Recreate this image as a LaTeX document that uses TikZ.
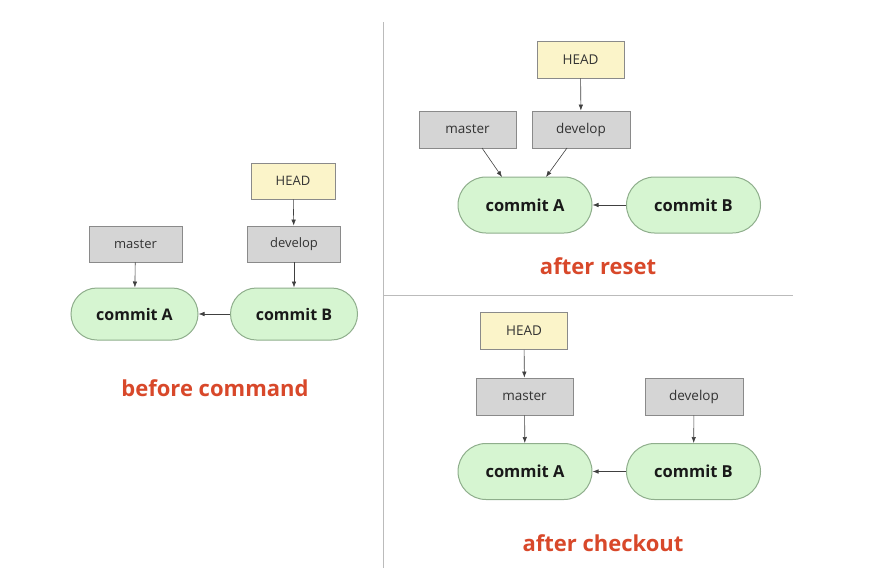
\documentclass[tikz,border=0pt]{standalone}
\usepackage{fontspec}
\setmainfont{Open Sans}
\usetikzlibrary{arrows.meta}
\definecolor{cgreen}{HTML}{D6F5D1}
\definecolor{cgreenb}{HTML}{8FAE8C}
\definecolor{cgray}{HTML}{D5D5D5}
\definecolor{cgrayb}{HTML}{8A8A8A}
\definecolor{chead}{HTML}{FBF4C9}
\definecolor{cred}{HTML}{D8482A}
\definecolor{cline}{HTML}{BBBBBB}
\tikzset{
  commitbox/.style={draw=cgreenb, fill=cgreen, line width=1pt, rounded corners=26pt,
    minimum width=127pt, minimum height=52pt, font=\fontsize{16}{18}\selectfont\bfseries, text=black!90},
  commitbig/.style={commitbox, rounded corners=28pt, minimum width=134pt, minimum height=56pt, font=\fontsize{16.5}{18}\selectfont\bfseries},
  refbox/.style={draw=cgrayb, fill=cgray, line width=0.8pt, minimum width=93pt, minimum height=36pt,
    font=\fontsize{13}{15}\selectfont, text=black!80},
  refbig/.style={refbox, minimum width=97pt, minimum height=37pt, font=\fontsize{13.5}{15}\selectfont},
  headbox/.style={refbox, fill=chead, minimum width=84pt},
  headbig/.style={refbig, fill=chead, minimum width=87pt},
  caption/.style={text=cred, font=\fontsize{22}{25}\selectfont\bfseries},
  arr/.style={-{Latex[length=6pt,width=4.5pt]}, line width=0.6pt, draw=black!75},
  divider/.style={draw=cline, line width=1pt}
}
\begin{document}
\begin{tikzpicture}[x=1pt,y=-1pt]
\useasboundingbox (0,0) rectangle (872,584);
% dividers
\coordinate (v1) at (383,22);
\coordinate (v2) at (383,568);
\coordinate (h1) at (383,295);
\coordinate (h2) at (793,295);
\draw[divider] (v1) -- (v2);
\draw[divider] (h1) -- (h2);
% left panel
\node[headbox] (lhead) at (293,181) {HEAD};
\node[refbox] (ldev) at (294,244) {develop};
\node[refbox] (lmaster) at (135.5,244) {master};
\node[commitbox] (lA) at (134.5,314) {commit A};
\node[commitbox] (lB) at (294,314) {commit B};
\node[caption] (lcap) at (215,388) {before command};
\draw[arr] (lhead) -- (ldev);
\draw[arr] (ldev) -- (lB);
\draw[arr] (lmaster) -- (lA);
\draw[arr] (lB) -- (lA);
% top right
\node[headbig] (thead) at (580.5,59.5) {HEAD};
\node[refbig] (tmaster) at (467.5,129.5) {master};
\node[refbig, minimum width=98pt] (tdev) at (581,129.5) {develop};
\node[commitbig] (tA) at (525,205) {commit A};
\node[commitbig] (tB) at (693.5,205) {commit B};
\node[caption] (tcap) at (598,266) {after reset};
\coordinate (tm1) at (482,148);
\coordinate (ta1) at (502,177);
\coordinate (td1) at (567,148);
\coordinate (ta2) at (546,177);
\draw[arr] (thead) -- (tdev);
\draw[arr] (tm1) -- (ta1);
\draw[arr] (td1) -- (ta2);
\draw[arr] (tB) -- (tA);
% bottom right
\node[headbig] (bhead) at (524,331) {HEAD};
\node[refbig] (bmaster) at (524.5,396.5) {master};
\node[refbig, minimum width=98pt] (bdev) at (694,396.5) {develop};
\node[commitbig] (bA) at (525,471.5) {commit A};
\node[commitbig] (bB) at (693.5,471.5) {commit B};
\node[caption] (bcap) at (603,543) {after checkout};
\draw[arr] (bhead) -- (bmaster);
\draw[arr] (bmaster) -- (bA);
\draw[arr] (bdev) -- (bB);
\draw[arr] (bB) -- (bA);
\end{tikzpicture}
\end{document}
